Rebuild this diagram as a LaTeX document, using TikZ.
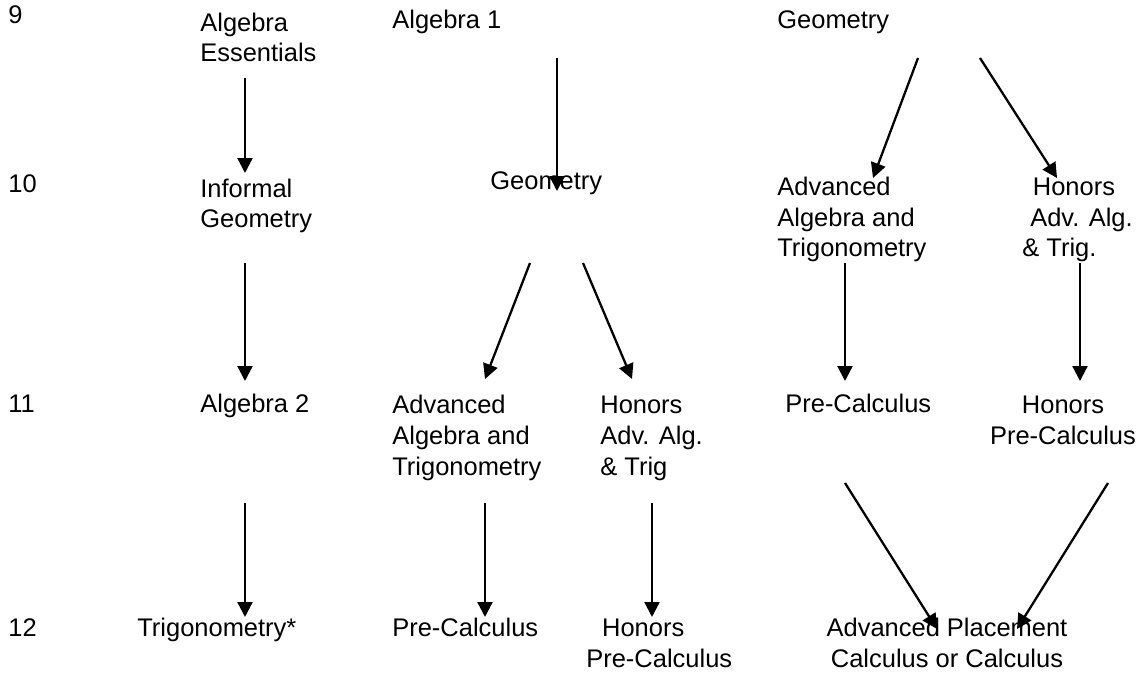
\documentclass[tikz,border=0pt]{standalone}
\usepackage{fontspec}
\setmainfont{Liberation Sans}
\usetikzlibrary{arrows.meta}
\tikzset{
  course/.style={anchor=base west, inner sep=0pt, align=left},
  flow/.style={line width=1.3pt, -{Triangle[length=8.5pt,width=8.5pt]}}
}
\begin{document}
\begin{tikzpicture}[x=0.02cm, y=-0.02cm, font=\fontsize{14.5}{17.6}\selectfont]
    \useasboundingbox (0,0) rectangle (1139,675);
    % grade numbers
    \foreach \g/\y in {9/24, 10/193, 11/413, 12/636} {
        \node[course] (g\g) at (8,\y) {\g};
    }
    % grade 9 (base = last line)
    \node[course] (ae9) at (200,62) {Algebra\\Essentials};
    \node[course] (a1) at (392,29) {Algebra 1};
    \node[course] (geo9) at (777,29) {Geometry};
    % grade 10
    \node[course] (ig10) at (200,228) {Informal\\Geometry};
    \node[course] (geo10) at (490,190) {Geometry};
    \node[course] (aat10) at (777,257) {Advanced\\Algebra and\\Trigonometry};
    \node[course] (hat10) at (1022,257) {\hspace*{6pt}Honors\\\hspace*{4.5pt}Adv. Alg.\\\& Trig.};
    % grade 11
    \node[course] (a2) at (200,413) {Algebra 2};
    \node[course] (aat11) at (392,475) {Advanced\\Algebra and\\Trigonometry};
    \node[course] (hat11) at (600,475) {Honors\\Adv. Alg.\\\& Trig};
    \node[course] (pc11) at (785,413) {Pre-Calculus};
    \node[course, align=center, anchor=base] (hpc11) at (1063,444) {Honors\\Pre-Calculus};
    % grade 12
    \node[course] (trig12) at (137,636) {Trigonometry*};
    \node[course] (pc12) at (392,636) {Pre-Calculus};
    \node[course] (hpc12) at (586,667) {\hspace*{9pt}Honors\\Pre-Calculus};
    \node[course, align=center, anchor=base] (ap12) at (947,667) {Advanced Placement\\Calculus or Calculus};
    % arrow ends
    \foreach \i/\xs/\ys/\xe/\ye in {1/245/78/245/173, 2/557/58/557/191, 3/918/58/873/178,
        4/980/58/1057/178, 5/245/263/245/381, 6/530/263/485/379, 7/583/263/632/379,
        8/845/263/845/381, 9/1080/263/1080/381, 10/245/503/245/617, 11/485/503/485/617,
        12/652/503/652/617, 13/845/483/937/629, 14/1108/483/1017/629} {
        \coordinate (s\i) at (\xs,\ys);
        \coordinate (e\i) at (\xe,\ye);
    }
    \foreach \i in {1,...,14} {
        \draw[flow] (s\i) -- (e\i);
    }
\end{tikzpicture}
\end{document}
